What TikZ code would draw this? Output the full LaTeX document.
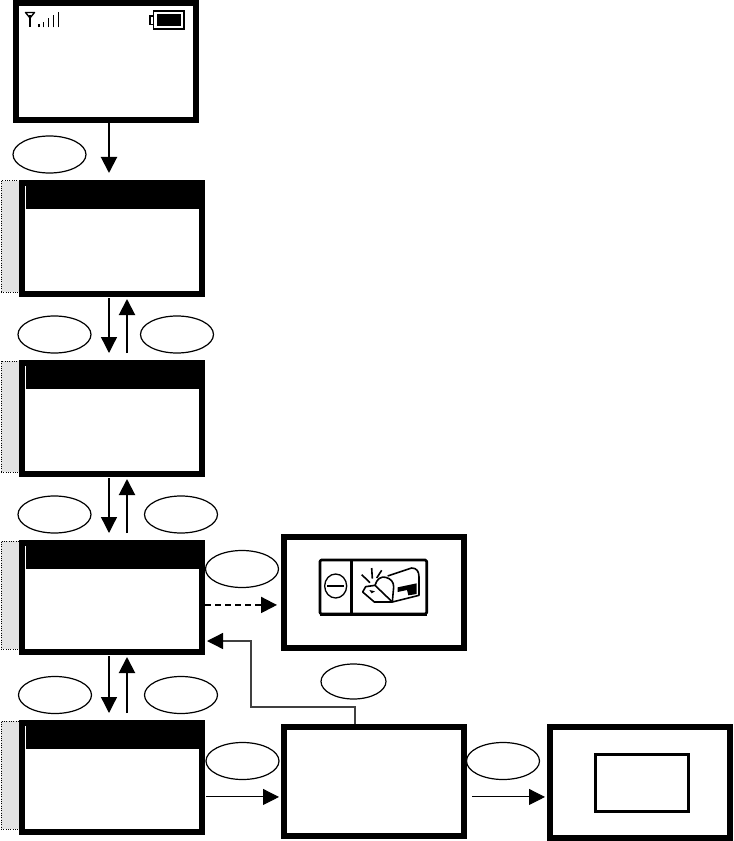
\documentclass[tikz,border=0pt]{standalone}
\usepackage{tikz}
\usetikzlibrary{shapes.geometric, arrows.meta, positioning, calc}

\begin{document}
\begin{tikzpicture}[
        x=0.75pt, y=-0.75pt,
        screen/.style={rectangle, draw=black, line width=4.5pt, fill=white, inner sep=0pt, minimum width=135pt, minimum height=83.25pt},
        menubar/.style={rectangle, fill=black, inner sep=0pt, anchor=north east, minimum width=134.25pt, minimum height=17.25pt},
        menutab/.style={rectangle, draw=black, densely dotted, line width=0.75pt, fill=black!11, inner sep=0pt, minimum width=13.5pt, minimum height=83.25pt},
        key/.style={ellipse, draw=black, line width=0.9pt, fill=white, inner sep=0pt, minimum width=54.75pt, minimum height=27.75pt},
        arrow/.style={-{Triangle[length=12pt, width=12pt, color=black]}, line width=1.5pt},
        thinarrow/.style={arrow, line width=0.75pt}
    ]
        \useasboundingbox (0,0) rectangle (733,841);

        % menu column
        \node[screen, minimum height=87.75pt] (start) at (106,61.5) {};
        \foreach \tabname/\menuname/\barname/\ytab/\ymenu/\ybar/\htab/\hmenu in {
            tabA/menuA/barA/236.5/238.5/186/83.25pt/83.25pt,
            tabB/menuB/barB/416.5/418.5/366/83.25pt/83.25pt,
            tabC/menuC/barC/595/597.5/546/81pt/81.75pt,
            tabD/menuD/barD/775/777.5/726/81pt/81.75pt} {
            \node[menutab, minimum height=\htab] (\tabname) at (10,\ytab) {};
            \node[screen, minimum height=\hmenu] (\menuname) at (112,\ymenu) {};
            \node[menubar] (\barname) at (205,\ybar) {};
        }

        % other screens
        \node[screen] (mail) at (374,592.5) {};
        \node[screen, minimum height=81.75pt] (boxMid) at (374,781.5) {};
        \node[screen] (boxEnd) at (640,782.5) {};
        \node[rectangle, draw=black, line width=2.6pt, inner sep=0pt, minimum width=69.5pt, minimum height=42.5pt] (boxInner) at (642,783) {};

        % soft keys
        \node[key] (keyA) at (49.5,154.5) {};
        \node[key] (keyB) at (54.5,334.5) {};
        \node[key] (keyC) at (177,334.5) {};
        \node[key] (keyD) at (54.5,514.5) {};
        \node[key] (keyE) at (181,514.5) {};
        \node[key] (keyF) at (55,695) {};
        \node[key] (keyG) at (181,695) {};
        \node[key] (keyH) at (242,569) {};
        \node[key] (keyI) at (242.5,761) {};
        \node[key] (keyJ) at (503,761) {};
        \node[key, minimum width=48.75pt, minimum height=26.25pt] (keyK) at (353.5,681.5) {};

        % arrows
        \draw[arrow] ([xshift=2.25pt]start.south) -- ([xshift=-2.25pt, yshift=5.25pt]menuA.north);
        \foreach \from/\to in {menuA/menuB, menuB/menuC, menuC/menuD} {
            \draw[arrow, line width=1pt] ([xshift=-2.25pt, yshift=-1pt]\from.south) -- ([xshift=-2.25pt, yshift=5.25pt]\to.north);
            \draw[arrow] ([xshift=11.25pt, yshift=5.25pt]\to.north) -- ([xshift=11.25pt, yshift=-1.5pt]\from.south);
        }
        \draw[arrow, dash pattern=on 4.5pt off 3pt, shorten >=3pt] ([yshift=-5.6pt]menuC.east) -- ([yshift=-5.6pt]menuC.east -| mail.west);
        \draw[thinarrow, shorten <=0.75pt, shorten >=1.5pt] ([yshift=-14.6pt]menuD.east) -- ([yshift=-14.6pt]menuD.east -| boxMid.west);
        \draw[thinarrow, shorten <=3.75pt, shorten >=1.5pt] ([yshift=-11.6pt]boxMid.east) -- ([yshift=-11.6pt]boxMid.east -| boxEnd.west);

        \coordinate (bendA) at (251,707);
        \coordinate (backTip) at (207,641);
        \draw[arrow, line width=1pt, draw=black!75] ([xshift=-14.25pt]boxMid.north) |- (bendA) |- (backTip);

        % signal and battery
        \draw[line width=1pt, line join=round, fill=white] (25.5,12.5) -- (34.5,12.5) -- (30,18) -- cycle;
        \draw[line width=1.3pt] (30,15) -- (30,27.5);
        \foreach \xbar/\ybar in {39/24, 43.7/21.7, 48.7/18.3, 53.7/15, 58.3/12.3} {
            \draw[line width=1.15pt] (\xbar,27.5) -- (\xbar,\ybar);
        }
        \draw[line width=1.2pt] (153.5,11) rectangle (184,29);
        \draw[line width=1.2pt] (150,16) rectangle (153.5,24.5);
        \fill[black] (157,14) rectangle (181,26);

        % mailbox icon
        \begin{scope}[shift={(315,552)}, x=0.25pt, y=-0.25pt, line width=1.2pt, line join=round]
            \draw[line width=2pt, rounded corners=1pt] (15,24) rectangle (335,186);
            \draw[line width=2.6pt] (15,188) -- (335,188);
            \draw[line width=2pt] (110,24) -- (110,188);
            \draw[line width=1pt] (62,102) ellipse (33 and 36);
            \draw[line width=2pt] (36,102) -- (88,102);
            \draw (140,68) -- (165,92);
            \draw (170,48) -- (172,80);
            \draw (200,55) -- (185,78);
            \draw (218,72) -- (290,48) .. controls (305,48) and (312,58) .. (312,75) -- (312,130) -- (232,150);
            \draw (180,100) .. controls (185,80) and (200,72) .. (212,76) .. controls (228,80) and (236,90) .. (236,105) -- (232,150);
            \draw (180,100) -- (152,104) -- (143,120) -- (178,150) -- (232,150) -- (180,100);
            \fill (163,114) -- (180,118) -- (170,124) -- cycle;
            \fill (248,106) -- (305,94) -- (305,126) -- (280,130) -- (276,114) -- (248,120) -- cycle;
        \end{scope}
    \end{tikzpicture}
\end{document}
